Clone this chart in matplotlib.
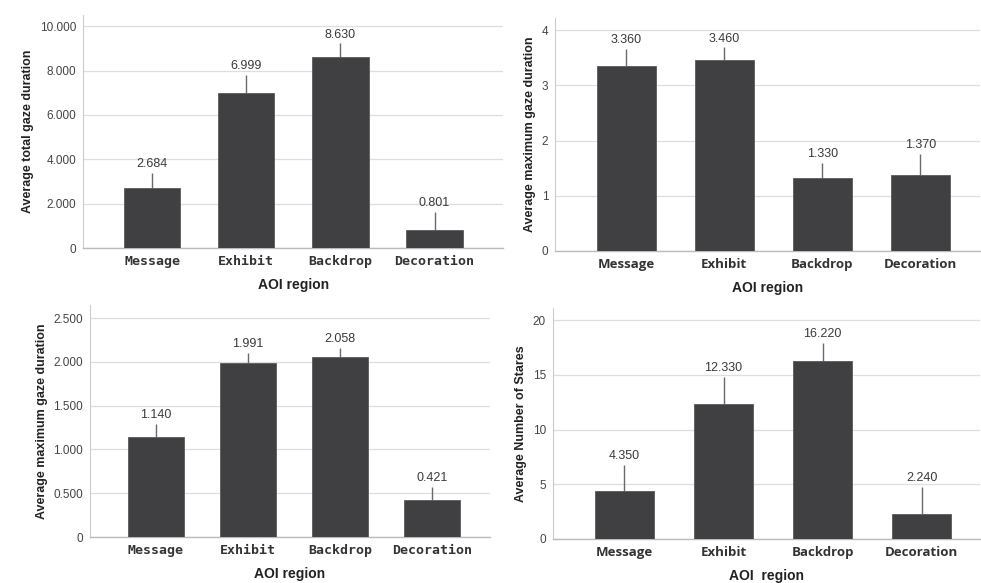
import matplotlib.pyplot as plt
from matplotlib.ticker import FuncFormatter

regions = ['Message', 'Exhibit', 'Backdrop', 'Decoration']

# values
total_gaze = [2.684, 6.999, 8.630, 0.801]
total_gaze_err = [0.70, 0.79, 0.60, 0.82]

max_gaze_a = [3.360, 3.460, 1.330, 1.370]
max_gaze_a_err = [0.30, 0.23, 0.26, 0.39]

max_gaze_b = [1.140, 1.991, 2.058, 0.421]
max_gaze_b_err = [0.15, 0.11, 0.10, 0.15]

stares = [4.350, 12.330, 16.220, 2.240]
stares_err = [2.41, 2.47, 1.68, 2.51]

bar_color = '#404042'
grid_color = '#dedede'

fig = plt.figure(figsize=(9.81, 5.83), dpi=100)

panels = [
    # rect, values, errors, ylabel, yticks, ylim, xlim, tick font, xlabel, tick label format
    ([0.0846, 0.5746, 0.4284, 0.3994], total_gaze, total_gaze_err,
     'Average total gaze duration', [0, 2, 4, 6, 8, 10], 10.5, (-0.734, 3.73), 'mono', 'AOI region', True),
    ([0.566, 0.5695, 0.433, 0.3995], max_gaze_a, max_gaze_a_err,
     'Average maximum gaze duration', [0, 1, 2, 3, 4], 4.22, (-0.724, 3.61), 'sans', 'AOI region', False),
    ([0.0917, 0.0789, 0.4078, 0.3979], max_gaze_b, max_gaze_b_err,
     'Average maximum gaze duration', [0, 0.5, 1, 1.5, 2, 2.5], 2.65, (-0.717, 3.63), 'mono', 'AOI region', True),
    ([0.5637, 0.0755, 0.4353, 0.3962], stares, stares_err,
     'Average Number of Stares', [0, 5, 10, 15, 20], 21.1, (-0.722, 3.59), 'sans', 'AOI  region', False),
]


def fmt3(v, pos):
    if v == 0:
        return '0'
    return '{:.3f}'.format(v)


for rect, vals, errs, ylab, yt, ytop, xl, tfont, xlab, dec in panels:
    ax = fig.add_axes(rect)
    xs = list(range(len(regions)))
    ax.bar(xs, vals, width=0.6, color=bar_color, edgecolor='#5a5a5c', linewidth=0.6, zorder=3)
    # only the upper whisker shows above each bar
    ax.errorbar(xs, vals, yerr=[[0] * len(errs), errs], fmt='none',
                ecolor='#6a6a6a', elinewidth=1.0, capsize=0, zorder=2)
    for x, v, e in zip(xs, vals, errs):
        ax.annotate('{:.3f}'.format(v), (x, v + e), xytext=(0, 2), textcoords='offset points',
                    ha='center', va='bottom', fontsize=9, color='#3a3a3a',
                    family='Liberation Sans')

    ax.set_xlim(*xl)
    ax.set_ylim(0, ytop)
    ax.set_yticks(yt)
    if dec:
        ax.yaxis.set_major_formatter(FuncFormatter(fmt3))
    else:
        ax.yaxis.set_major_formatter(FuncFormatter(lambda v, p: '{:g}'.format(v)))
    ax.set_xticks(xs)
    if tfont == 'mono':
        ax.set_xticklabels(regions, family='DejaVu Sans Mono', fontweight='bold', fontsize=9.5, color='#333333')
    else:
        ax.set_xticklabels(regions, family='Open Sans', fontweight='bold', fontsize=9.5, color='#333333')
    for lab in ax.get_yticklabels():
        lab.set_family('Liberation Sans')
        lab.set_fontsize(8.5)
        lab.set_color('#444444')

    ax.tick_params(length=0, pad=5)
    ax.grid(axis='y', color=grid_color, linewidth=0.9, zorder=0)
    ax.set_axisbelow(True)
    for s in ['top', 'right']:
        ax.spines[s].set_visible(False)
    ax.spines['left'].set_color('#cccccc')
    ax.spines['bottom'].set_color('#bbbbbb')
    ax.spines['bottom'].set_linewidth(1.0)

    ax.set_ylabel(ylab, family='Liberation Sans', fontweight='bold', fontsize=9, color='#222222', labelpad=4)
    ax.set_xlabel(xlab, family='Liberation Sans', fontweight='bold', fontsize=10, color='#222222', labelpad=7)

fig.savefig('out.png', dpi=100)
